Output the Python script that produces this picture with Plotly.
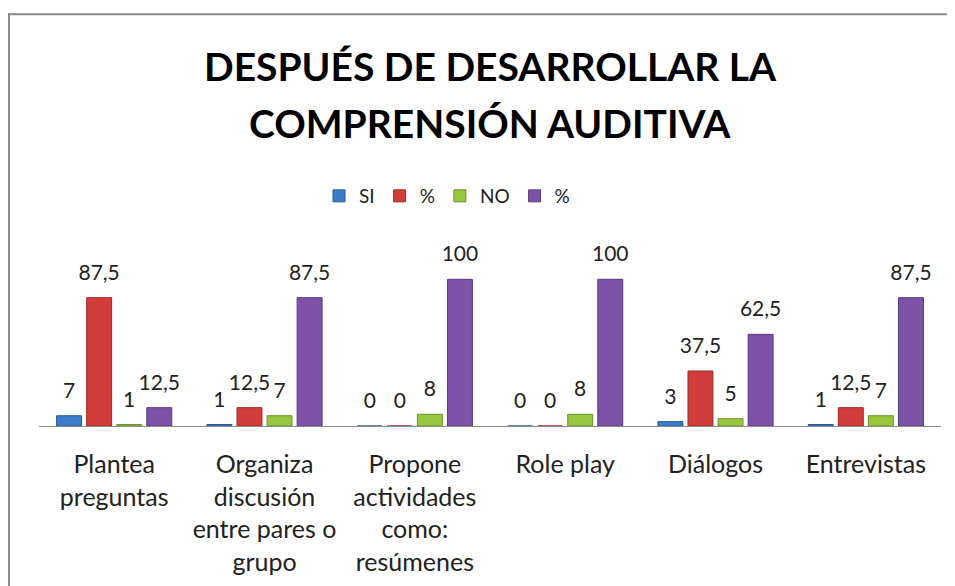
import plotly.graph_objects as go

categories = ["Plantea<br>preguntas", "Organiza<br>discusión<br>entre pares o<br>grupo",
              "Propone<br>actividades<br>como:<br>resúmenes", "Role play", "Diálogos", "Entrevistas"]
series_names = ["SI", "%", "NO", "%"]
si_vals = [7, 1, 0, 0, 3, 1]
si_pct = [87.5, 12.5, 0, 0, 37.5, 12.5]
no_vals = [1, 7, 8, 8, 5, 7]
no_pct = [12.5, 87.5, 100, 100, 62.5, 87.5]
title_lines = ["DESPUÉS DE DESARROLLAR LA", "COMPRENSIÓN AUDITIVA"]
colors = ["#3D7CC9", "#D23D39", "#98C63F", "#7D52A8"]
edge_colors = ["#2A5B96", "#9E2A27", "#6E922B", "#5A3A7C"]

def fmt(v):
    s = ("%g" % v).replace(".", ",")
    # invisible spacer line lifts the label above the bar like the original
    return ("<span style='font-size:21px'>" + s + "</span><br>"
            "<span style='color:rgba(0,0,0,0)'>.</span>")

FONT = "Lato"
fig = go.Figure()
for name, vals, c, ec in zip(series_names, [si_vals, si_pct, no_vals, no_pct], colors, edge_colors):
    fig.add_trace(go.Bar(
        x=categories, y=vals, name=name,
        marker=dict(color=c, line=dict(color=ec, width=1)),
        text=[fmt(v) for v in vals], textposition="outside",
        constraintext="none", cliponaxis=False,
        textfont=dict(family=FONT, size=10, color="#222"),
    ))

# page body adds an 8px offset; figure coordinates = reference pixels - 8
W, H = 947, 578
L, R, T, B = 31, 14, 242, 160
pw, ph = W - L - R, H - T - B

def px(x):
    return (x - L) / pw

def py(y):
    return (H - B - y) / ph

title_y = [58, 115]
fig.update_layout(
    width=W, height=H,
    margin=dict(l=L, r=R, t=T, b=B),
    paper_bgcolor="white", plot_bgcolor="white",
    barmode="group", bargap=0.2, bargroupgap=0.17,
    annotations=[
        dict(text=t, x=0.5, xref="paper", xanchor="center", y=py(yy), yref="paper",
             yanchor="middle", showarrow=False,
             font=dict(family=FONT, size=39, color="black", weight="bold"))
        for t, yy in zip(title_lines, title_y)
    ],
    legend=dict(orientation="h", x=px(439), xanchor="center", y=py(188), yanchor="middle",
                font=dict(family=FONT, size=19, color="#222"),
                itemwidth=30, tracegroupgap=0),
    xaxis=dict(showline=True, linecolor="#8c8c8c", linewidth=1, ticks="",
               tickfont=dict(family=FONT, size=25, color="#222"),
               ticklabelstandoff=16, showgrid=False, automargin=False),
    yaxis=dict(visible=False, range=[0, 120], showgrid=False, zeroline=False),
    font=dict(family=FONT),
    shapes=[
        dict(type="line", xref="paper", yref="paper", x0=px(0), x1=px(W + 2), y0=py(6.3), y1=py(6.3),
             line=dict(color="#8a8a8a", width=2)),
        dict(type="line", xref="paper", yref="paper", x0=px(1), x1=px(1), y0=py(5.3), y1=py(H + 2),
             line=dict(color="#8a8a8a", width=2)),
    ],
)

fig.write_html("out.html")
